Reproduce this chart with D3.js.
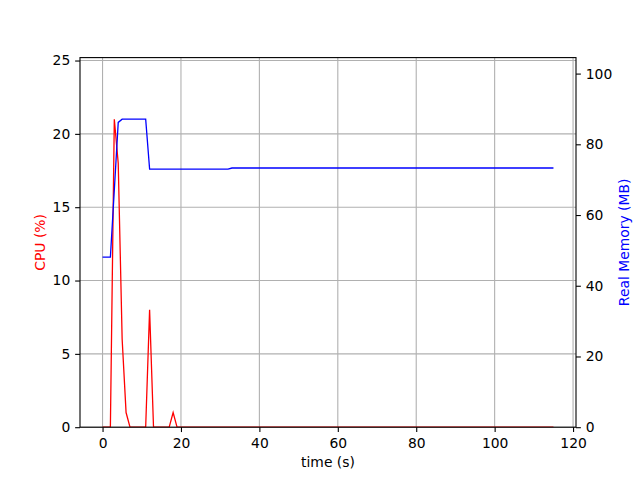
<!DOCTYPE html>
<html>
<head>
<meta charset="utf-8">
<script src="https://cdn.jsdelivr.net/npm/d3@7"></script>
<style>
body { margin: 0; background: white; }
text { font-family: "DejaVu Sans", sans-serif; }
</style>
</head>
<body>
<div id="chart"></div>
<script>
// sample times (s), one reading per second
var time = [0, 1, 2, 3, 4, 5, 6, 7, 8, 9, 10, 11, 12, 13, 14, 15, 16, 17, 18, 19,
    20, 21, 22, 23, 24, 25, 26, 27, 28, 29, 30, 31, 32, 33, 34, 35, 36, 37, 38, 39,
    40, 41, 42, 43, 44, 45, 46, 47, 48, 49, 50, 51, 52, 53, 54, 55, 56, 57, 58, 59,
    60, 61, 62, 63, 64, 65, 66, 67, 68, 69, 70, 71, 72, 73, 74, 75, 76, 77, 78, 79,
    80, 81, 82, 83, 84, 85, 86, 87, 88, 89, 90, 91, 92, 93, 94, 95, 96, 97, 98, 99,
    100, 101, 102, 103, 104, 105, 106, 107, 108, 109, 110, 111, 112, 113, 114, 115];
// CPU usage (%)
var cpu = [0, 0, 0, 21, 18, 6, 1, 0, 0, 0, 0, 0, 8, 0, 0, 0, 0, 0, 1, 0,
    0, 0, 0, 0, 0, 0, 0, 0, 0, 0, 0, 0, 0, 0, 0, 0, 0, 0, 0, 0,
    0, 0, 0, 0, 0, 0, 0, 0, 0, 0, 0, 0, 0, 0, 0, 0, 0, 0, 0, 0,
    0, 0, 0, 0, 0, 0, 0, 0, 0, 0, 0, 0, 0, 0, 0, 0, 0, 0, 0, 0,
    0, 0, 0, 0, 0, 0, 0, 0, 0, 0, 0, 0, 0, 0, 0, 0, 0, 0, 0, 0,
    0, 0, 0, 0, 0, 0, 0, 0, 0, 0, 0, 0, 0, 0, 0, 0];
// real memory (MB)
var mem = [48.1, 48.1, 48.1, 67.0, 86.2, 87.1, 87.1, 87.1, 87.1, 87.1, 87.1, 87.1, 73.0, 73.0, 73.0, 73.0, 73.0, 73.0, 73.0, 73.0,
    73.0, 73.0, 73.0, 73.0, 73.0, 73.0, 73.0, 73.0, 73.0, 73.0, 73.0, 73.0, 73.0, 73.3, 73.3, 73.3, 73.3, 73.3, 73.3, 73.3,
    73.3, 73.3, 73.3, 73.3, 73.3, 73.3, 73.3, 73.3, 73.3, 73.3, 73.3, 73.3, 73.3, 73.3, 73.3, 73.3, 73.3, 73.3, 73.3, 73.3,
    73.3, 73.3, 73.3, 73.3, 73.3, 73.3, 73.3, 73.3, 73.3, 73.3, 73.3, 73.3, 73.3, 73.3, 73.3, 73.3, 73.3, 73.3, 73.3, 73.3,
    73.3, 73.3, 73.3, 73.3, 73.3, 73.3, 73.3, 73.3, 73.3, 73.3, 73.3, 73.3, 73.3, 73.3, 73.3, 73.3, 73.3, 73.3, 73.3, 73.3,
    73.3, 73.3, 73.3, 73.3, 73.3, 73.3, 73.3, 73.3, 73.3, 73.3, 73.3, 73.3, 73.3, 73.3, 73.3, 73.3];
var xTicks = [0, 20, 40, 60, 80, 100, 120];
var cpuTicks = [0, 5, 10, 15, 20, 25];
var memTicks = [0, 20, 40, 60, 80, 100];

var W = 640, H = 480;
var margin = { top: 57.6, right: 64, bottom: 52.8, left: 80 };
var width = W - margin.left - margin.right;
var height = H - margin.top - margin.bottom;
var fontSize = 13.89;
var tickLen = 4.86;

var svg = d3.select("#chart").append("svg")
    .attr("width", W)
    .attr("height", H);
var g = svg.append("g")
    .attr("transform", "translate(" + margin.left + "," + margin.top + ")");

// matplotlib style 5% padding on x
var tMin = d3.min(time), tMax = d3.max(time);
var pad = (tMax - tMin) * 0.05;
var x = d3.scaleLinear().domain([tMin - pad, tMax + pad]).range([0, width]);
var yCpu = d3.scaleLinear().domain([0, d3.max(cpu) * 1.2]).range([height, 0]);
var yMem = d3.scaleLinear().domain([0, d3.max(mem) * 1.2]).range([height, 0]);

// grid (left axis only)
g.append("g").selectAll("line")
    .data(xTicks)
    .enter().append("line")
    .attr("x1", function (d) { return x(d); })
    .attr("x2", function (d) { return x(d); })
    .attr("y1", 0).attr("y2", height)
    .style("stroke", "#b0b0b0").style("stroke-width", 1.1);
g.append("g").selectAll("line")
    .data(cpuTicks)
    .enter().append("line")
    .attr("x1", 0).attr("x2", width)
    .attr("y1", function (d) { return yCpu(d); })
    .attr("y2", function (d) { return yCpu(d); })
    .style("stroke", "#b0b0b0").style("stroke-width", 1.1);

var lineCpu = d3.line()
    .x(function (d, i) { return x(time[i]); })
    .y(function (d) { return yCpu(d); });
var lineMem = d3.line()
    .x(function (d, i) { return x(time[i]); })
    .y(function (d) { return yMem(d); });

var clip = g.append("clipPath").attr("id", "clip")
    .append("rect").attr("width", width).attr("height", height);

g.append("path")
    .datum(cpu)
    .attr("clip-path", "url(#clip)")
    .attr("d", lineCpu)
    .style("fill", "none")
    .style("stroke", "red")
    .style("stroke-width", 1.3);
g.append("path")
    .datum(mem)
    .attr("clip-path", "url(#clip)")
    .attr("d", lineMem)
    .style("fill", "none")
    .style("stroke", "blue")
    .style("stroke-width", 1.3);

function styleAxis(sel) {
    sel.select(".domain").remove();
    sel.selectAll(".tick line").style("stroke", "black").style("stroke-width", 1.1);
    sel.selectAll(".tick text")
        .style("font-family", "'DejaVu Sans', sans-serif")
        .style("font-size", fontSize + "px")
        .style("fill", "black");
}

g.append("g")
    .attr("transform", "translate(0," + height + ")")
    .call(d3.axisBottom(x).tickValues(xTicks).tickSize(tickLen).tickPadding(6))
    .call(styleAxis);
g.append("g")
    .call(d3.axisLeft(yCpu).tickValues(cpuTicks).tickSize(tickLen).tickPadding(4.9))
    .call(styleAxis);
g.append("g")
    .attr("transform", "translate(" + width + ",0)")
    .call(d3.axisRight(yMem).tickValues(memTicks).tickSize(tickLen).tickPadding(4.9))
    .call(styleAxis);

// spines
g.append("rect")
    .attr("width", width).attr("height", height)
    .style("fill", "none")
    .style("stroke", "black")
    .style("stroke-width", 1.1);

// labels
svg.append("text")
    .attr("x", margin.left + width / 2)
    .attr("y", 467)
    .attr("text-anchor", "middle")
    .style("font-size", fontSize + "px")
    .text("time (s)");
svg.append("text")
    .attr("transform", "translate(45," + (margin.top + height / 2) + ") rotate(-90)")
    .attr("text-anchor", "middle")
    .style("font-size", fontSize + "px")
    .style("fill", "red")
    .text("CPU (%)");
svg.append("text")
    .attr("transform", "translate(629," + (margin.top + height / 2) + ") rotate(-90)")
    .attr("text-anchor", "middle")
    .style("font-size", fontSize + "px")
    .style("fill", "blue")
    .text("Real Memory (MB)");
</script>
</body>
</html>
